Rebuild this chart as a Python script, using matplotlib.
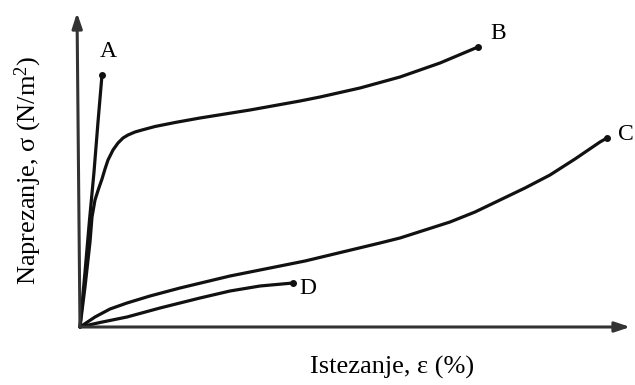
import matplotlib
matplotlib.use('Agg')
import matplotlib.pyplot as plt

# curves (strain, stress) in arbitrary units
a_x = [0, 0.5, 0.95, 1.4, 1.8, 2.2]
a_y = [0, 5.5, 10.7, 15.5, 20.5, 25.2]

b_x = [0, 0.5, 1.0, 1.2, 1.5, 1.85, 2.2, 2.5, 2.8, 3.3, 3.8, 4.3, 4.8, 5.5, 6.2, 7.5, 9.5, 12.0, 14.5,
       17.0, 19.5, 22.0, 24.0, 28.0, 32.0, 36.0, 39.8]
b_y = [0, 4.0, 8.5, 11.0, 12.7, 13.8, 14.8, 15.8, 16.7, 17.7, 18.4, 18.9, 19.2, 19.5, 19.7, 20.05, 20.45,
       20.9, 21.3, 21.7, 22.15, 22.6, 23.0, 23.9, 25.0, 26.4, 28.0]

c_x = [0, 1.5, 3.0, 4.7, 7.0, 10.0, 12.5, 15.0, 17.5, 20.0, 22.5, 25.0, 27.5, 30.0, 32.0, 34.5, 37.0,
       39.5, 42.0, 44.5, 47.0, 49.5, 52.0, 52.7]
c_y = [0, 1.0, 1.8, 2.4, 3.1, 3.9, 4.5, 5.1, 5.6, 6.1, 6.6, 7.2, 7.8, 8.4, 8.9, 9.7, 10.5,
       11.5, 12.7, 13.9, 15.2, 16.8, 18.5, 18.9]

d_x = [0, 2.0, 4.7, 8.0, 10.0, 12.0, 15.0, 18.0, 21.3]
d_y = [0, 0.45, 1.0, 1.9, 2.4, 2.9, 3.6, 4.1, 4.4]

labels = ['A', 'B', 'C', 'D']
label_pos = [(2.0, 26.5), (41.0, 28.3), (53.8, 19.2), (21.9, 3.8)]

plt.rcParams['mathtext.fontset'] = 'custom'
plt.rcParams['mathtext.rm'] = 'Liberation Serif'
plt.rcParams['mathtext.it'] = 'Liberation Serif:italic'
font = 'Liberation Serif'

fig = plt.figure(figsize=(6.35, 3.85), dpi=100)
ax = fig.add_axes([0, 0, 1, 1])
ax.set_xlim(-8.0, 55.5)
ax.set_ylim(-5.8, 32.7)
ax.axis('off')

lw = 2.3
for xs, ys in [(a_x, a_y), (b_x, b_y), (c_x, c_y), (d_x, d_y)]:
    ax.plot(xs, ys, color='#111111', lw=lw, solid_capstyle='round', solid_joinstyle='round')
    ax.plot(xs[-1], ys[-1], 'o', color='#111111', ms=4)

# axes arrows
ax.annotate('', xy=(55.3, 0), xytext=(-0.3, 0),
            arrowprops=dict(arrowstyle='-|>,head_length=0.9,head_width=0.3', color='#333333', lw=2.2))
ax.annotate('', xy=(-0.3, 31.7), xytext=(0.0, -0.2),
            arrowprops=dict(arrowstyle='-|>,head_length=0.9,head_width=0.3', color='#333333', lw=2.2))

for lab, (x, y) in zip(labels, label_pos):
    ax.text(x, y, lab, fontsize=17, family=font, ha='left', va='bottom' if lab in 'AB' else 'center')

ax.text(31.2, -4.0, 'Istezanje, ε (%)', fontsize=19, family=font, ha='center', va='center')
ax.text(-5.2, 15.7, r'Naprezanje, σ (N/m$^{\rm 2}$)', fontsize=19, family=font, ha='center', va='center',
        rotation=90)

fig.savefig('out.png', dpi=100)
